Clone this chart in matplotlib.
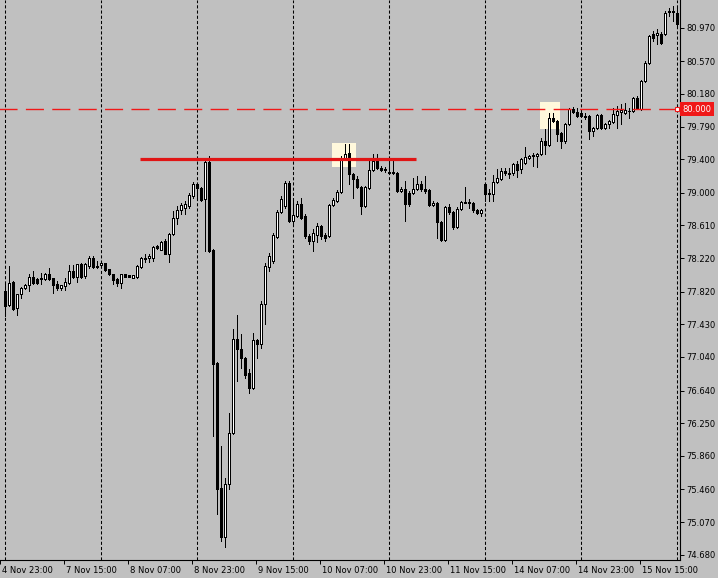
"""
H1 candlestick chart in MetaTrader style: 4 Nov - 15 Nov,
resistance line near 79.40, alert level at 80.000.
"""
import matplotlib
matplotlib.use('Agg')
import matplotlib.pyplot as plt
import matplotlib.patches as mpatches
import matplotlib.transforms as mtransforms
import numpy as np

# ---- data (hourly bars) ----
opens = [
    77.826, 77.658, 77.933, 77.622, 77.790, 77.862, 77.897, 77.993, 77.969, 77.981, 77.969, 78.029,
    77.981, 77.909, 77.862, 77.886, 77.921, 78.065, 77.993, 78.148, 78.005, 78.124, 78.220, 78.124,
    78.136, 78.160, 78.089, 78.029, 77.969, 77.921, 78.029, 78.017, 77.981, 77.993, 78.112, 78.220,
    78.220, 78.220, 78.363, 78.316, 78.423, 78.268, 78.507, 78.698, 78.793, 78.817, 78.841, 78.961,
    79.104, 79.056, 78.925, 79.367, 78.316, 76.965, 75.473, 74.887, 75.521, 76.130, 77.252, 77.132,
    77.025, 76.846, 76.667, 77.240, 77.192, 77.670, 78.112, 78.184, 78.471, 78.770, 78.841, 79.116,
    78.662, 78.722, 78.865, 78.722, 78.483, 78.423, 78.495, 78.602, 78.495, 78.483, 78.853, 78.901,
    79.009, 79.415, 79.475, 79.224, 79.164, 79.068, 78.841, 79.056, 79.272, 79.379, 79.296, 79.272,
    79.248, 79.248, 79.236, 79.021, 79.044, 78.997, 78.997, 79.044, 79.104, 79.044, 79.033, 78.853,
    78.877, 78.650, 78.435, 78.829, 78.770, 78.590, 78.805, 78.889, 78.889, 78.877, 78.793, 78.758,
    79.104, 78.985, 78.985, 79.128, 79.164, 79.260, 79.236, 79.236, 79.343, 79.284, 79.355, 79.415,
    79.439, 79.439, 79.463, 79.618, 79.570, 79.893, 79.857, 79.713, 79.618, 79.821, 80.000, 79.965,
    79.953, 79.917, 79.917, 79.737, 79.773, 79.929, 79.773, 79.821, 79.845, 79.929, 79.965, 79.953,
    79.977, 79.977, 80.131, 80.000, 80.334, 80.549, 80.896, 80.884, 80.896, 80.896, 81.159, 81.159,
    81.147,
]
highs = [
    77.921, 78.124, 77.945, 77.790, 77.874, 77.909, 78.029, 78.065, 77.981, 78.041, 78.041, 78.101,
    77.981, 77.945, 77.897, 77.981, 78.136, 78.136, 78.148, 78.160, 78.160, 78.244, 78.244, 78.184,
    78.160, 78.160, 78.089, 78.029, 77.981, 78.029, 78.029, 78.017, 78.017, 78.136, 78.232, 78.268,
    78.268, 78.363, 78.375, 78.423, 78.447, 78.519, 78.782, 78.841, 78.877, 78.901, 78.997, 79.128,
    79.116, 79.068, 79.403, 79.439, 78.328, 76.977, 75.974, 75.592, 76.369, 77.371, 77.539, 77.311,
    77.037, 76.894, 77.323, 77.252, 77.706, 78.160, 78.280, 78.519, 78.793, 78.961, 79.140, 79.140,
    78.925, 78.901, 78.937, 78.746, 78.507, 78.566, 78.638, 78.614, 78.519, 78.865, 78.937, 79.033,
    79.439, 79.582, 79.582, 79.236, 79.200, 79.080, 79.080, 79.379, 79.463, 79.463, 79.320, 79.308,
    79.379, 79.379, 79.248, 79.068, 79.140, 79.021, 79.176, 79.200, 79.140, 79.200, 79.044, 78.901,
    78.889, 78.662, 78.841, 78.865, 78.782, 78.829, 78.901, 79.068, 78.925, 78.889, 78.805, 78.805,
    79.116, 79.044, 79.212, 79.284, 79.296, 79.296, 79.296, 79.355, 79.379, 79.415, 79.546, 79.451,
    79.475, 79.475, 79.654, 79.761, 79.953, 79.953, 79.869, 79.726, 79.833, 80.012, 80.024, 80.012,
    79.965, 79.953, 79.929, 79.785, 79.941, 79.941, 79.833, 79.869, 80.012, 80.036, 80.060, 80.072,
    80.012, 80.143, 80.155, 80.346, 80.573, 80.884, 80.932, 80.955, 80.920, 81.171, 81.206, 81.230,
    81.218,
]
lows = [
    77.527, 77.646, 77.598, 77.539, 77.742, 77.850, 77.826, 77.909, 77.909, 77.909, 77.957, 77.957,
    77.802, 77.838, 77.838, 77.838, 77.909, 77.981, 77.933, 77.981, 77.981, 78.101, 78.101, 78.106,
    78.124, 78.065, 78.017, 77.909, 77.886, 77.862, 77.993, 77.993, 77.981, 77.981, 78.101, 78.172,
    78.172, 78.184, 78.327, 78.316, 78.268, 78.172, 78.495, 78.626, 78.746, 78.746, 78.817, 78.937,
    78.925, 78.901, 78.304, 78.292, 76.094, 75.162, 74.839, 74.767, 75.461, 76.118, 76.750, 76.906,
    76.786, 76.607, 76.655, 77.025, 77.144, 77.431, 78.065, 78.160, 78.459, 78.758, 78.817, 78.650,
    78.638, 78.710, 78.686, 78.459, 78.387, 78.304, 78.411, 78.447, 78.423, 78.471, 78.841, 78.889,
    78.997, 79.403, 79.104, 78.937, 79.056, 78.746, 78.829, 79.044, 79.260, 79.284, 79.260, 79.248,
    79.224, 79.224, 79.009, 79.009, 78.662, 78.841, 78.985, 79.033, 79.021, 78.997, 78.841, 78.841,
    78.459, 78.423, 78.423, 78.746, 78.566, 78.578, 78.793, 78.877, 78.817, 78.770, 78.746, 78.722,
    78.901, 78.901, 78.901, 79.116, 79.152, 79.212, 79.176, 79.212, 79.188, 79.236, 79.343, 79.403,
    79.320, 79.308, 79.451, 79.463, 79.558, 79.845, 79.618, 79.534, 79.594, 79.809, 79.953, 79.905,
    79.905, 79.881, 79.642, 79.678, 79.761, 79.761, 79.761, 79.773, 79.833, 79.773, 79.821, 79.941,
    79.893, 79.965, 80.000, 79.989, 80.322, 80.537, 80.812, 80.776, 80.776, 80.884, 81.111, 81.051,
    80.991,
]
closes = [
    77.646, 77.921, 77.610, 77.790, 77.862, 77.897, 77.993, 77.921, 77.921, 77.969, 78.029, 77.969,
    77.897, 77.862, 77.897, 77.933, 78.065, 77.993, 78.148, 77.993, 78.148, 78.220, 78.112, 78.118,
    78.160, 78.077, 78.029, 77.957, 77.921, 78.029, 77.993, 77.993, 78.017, 78.124, 78.220, 78.208,
    78.244, 78.351, 78.339, 78.411, 78.268, 78.507, 78.698, 78.793, 78.853, 78.865, 78.973, 79.104,
    79.056, 78.913, 79.367, 78.304, 76.953, 75.461, 74.887, 75.521, 76.130, 77.252, 77.132, 77.025,
    76.822, 76.667, 77.240, 77.192, 77.670, 78.124, 78.244, 78.495, 78.770, 78.925, 79.116, 78.662,
    78.734, 78.865, 78.698, 78.483, 78.423, 78.519, 78.602, 78.483, 78.459, 78.853, 78.913, 79.009,
    79.415, 79.463, 79.224, 79.164, 79.068, 78.841, 79.068, 79.272, 79.379, 79.296, 79.272, 79.284,
    79.236, 79.236, 79.021, 79.044, 78.865, 78.865, 79.044, 79.104, 79.044, 79.021, 78.853, 78.877,
    78.650, 78.435, 78.829, 78.770, 78.590, 78.805, 78.889, 78.883, 78.877, 78.793, 78.758, 78.793,
    78.985, 78.997, 79.128, 79.176, 79.260, 79.236, 79.230, 79.343, 79.272, 79.403, 79.427, 79.439,
    79.451, 79.463, 79.618, 79.570, 79.893, 79.857, 79.702, 79.618, 79.821, 80.000, 79.965, 79.917,
    79.917, 79.905, 79.737, 79.773, 79.929, 79.773, 79.821, 79.857, 79.941, 79.977, 79.989, 79.989,
    79.971, 80.131, 80.012, 80.334, 80.549, 80.872, 80.848, 80.908, 80.788, 81.147, 81.171, 81.165,
    81.015,
]

time_labels = ['4 Nov 23:00', '7 Nov 15:00', '8 Nov 07:00', '8 Nov 23:00', '9 Nov 15:00',
               '10 Nov 07:00', '10 Nov 23:00', '11 Nov 15:00', '14 Nov 07:00',
               '14 Nov 23:00', '15 Nov 15:00']
price_ticks = [80.970, 80.570, 80.180, 79.790, 79.400, 79.000, 78.610, 78.220, 77.820,
               77.430, 77.040, 76.640, 76.250, 75.860, 75.460, 75.070, 74.680]

# drawn objects
resist_level = 79.40
resist_bars = [33.9, 102.9]
alert_level = 80.000
highlight_bars = [[81.9, 87.9], [133.9, 138.9]]
highlight_prices = [[79.308, 79.594], [79.761, 80.084]]

BG = '#C0C0C0'
RED = '#F01818'
RED_LINE = '#E01515'
CREAM = '#FFF8DC'

fig = plt.figure(figsize=(7.18, 5.78), dpi=100, facecolor=BG)
ax = fig.add_axes([0, 18 / 578, 680 / 718, 560 / 578])
ax.set_facecolor(BG)

n = len(opens)
x = np.arange(n)
o = np.array(opens)
h = np.array(highs)
l = np.array(lows)
c = np.array(closes)

# highlight boxes (behind everything)
for (x0, x1), (y0, y1) in zip(highlight_bars, highlight_prices):
    ax.add_patch(mpatches.Rectangle((x0, y0), x1 - x0, y1 - y0,
                                    facecolor=CREAM, edgecolor='none', zorder=1))

# period separators
for xi in range(0, n, 24):
    ax.axvline(xi, color='black', lw=0.75, linestyle=(0, (3, 2)), zorder=2)

# candles
ax.vlines(x, l, h, color='black', lw=0.72, zorder=3, antialiased=False)
up = c >= o
body_bot = np.minimum(o, c)
body_h = np.maximum(np.abs(c - o), 0.003)
ax.bar(x[up], body_h[up], bottom=body_bot[up], width=0.5,
       facecolor='white', edgecolor='black', linewidth=0.72, zorder=4, antialiased=False)
ax.bar(x[~up], body_h[~up], bottom=body_bot[~up], width=0.5,
       facecolor='black', edgecolor='black', linewidth=0.72, zorder=4, antialiased=False)

# resistance line
ax.hlines(resist_level, resist_bars[0], resist_bars[1], color=RED_LINE, lw=2.3, zorder=5)

# alert level
ax.hlines(alert_level, -2, n - 1, color=RED, lw=1.0, linestyles=(0, (13, 6)), zorder=5)
ax.plot([n - 1], [alert_level], marker='s', ms=3.2, mfc='white', mec=RED, mew=0.8, zorder=6)

trans = mtransforms.blended_transform_factory(ax.transAxes, ax.transData)
ax.text(1.0035, alert_level, '80.000', transform=trans, ha='left', va='center',
        fontsize=6, color='white', clip_on=False, zorder=7,
        bbox=dict(boxstyle='square,pad=0.3', facecolor=RED, edgecolor='none'))

# axes
ax.set_xlim(-1.125, 168.875)
ax.set_ylim(74.617, 81.301)
for s in ['top', 'left']:
    ax.spines[s].set_visible(False)
for s in ['right', 'bottom']:
    ax.spines[s].set_color('black')
    ax.spines[s].set_linewidth(0.8)

ax.yaxis.tick_right()
ax.set_yticks(price_ticks)
ax.set_yticklabels([f'{p:.3f}' for p in price_ticks])
ax.tick_params(axis='y', length=3, width=0.7, pad=1.5, labelsize=6, colors='black')

xt = np.arange(len(time_labels)) * 16 - 1.125
ax.set_xticks(xt)
ax.set_xticklabels(time_labels)
ax.tick_params(axis='x', length=3, width=0.7, pad=1.5, labelsize=6, colors='black')
offset = mtransforms.ScaledTranslation(2 / 100, 0, fig.dpi_scale_trans)
for lab in ax.get_xticklabels():
    lab.set_horizontalalignment('left')
    lab.set_transform(lab.get_transform() + offset)

fig.savefig('out.png', dpi=100, facecolor=BG)
